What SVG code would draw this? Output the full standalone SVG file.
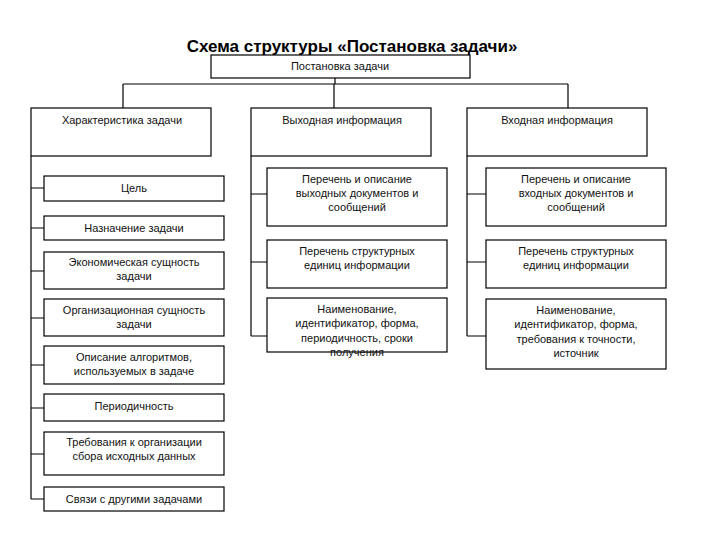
<svg xmlns="http://www.w3.org/2000/svg" width="720" height="540" viewBox="0 0 720 540">
<style>
rect{fill:#fff;stroke:#000;stroke-width:1.2}
text{font-family:"Liberation Sans",Arial,sans-serif;font-size:11px;fill:#111;text-anchor:middle}
.t{font-size:17px;font-weight:bold;fill:#000}
#c path{fill:none;stroke:#000;stroke-width:1.2}
</style>
<rect x="0" y="0" width="720" height="540" style="stroke:none"/>
<text class="t" x="352" y="52">Схема структуры «Постановка задачи»</text>
<g id="c">
<path d="M335 78V84M123 84H568M123 84V108M334 84V108M568 84V108"/>
<path d="M31 156V499M31 188H44M31 228H44M31 271H44M31 318H44M31 365H44M31 408H44M31 454H44M31 499H44"/>
<path d="M251 156V336M251 194H267M251 262H267M251 336H267"/>
<path d="M467 156V336M467 194H486M467 262H486M467 336H486"/>
</g>
<g id="root"><rect x="211" y="55" width="259" height="23"/><text x="340" y="70">Постановка задачи</text></g>
<g id="h1"><rect x="31" y="108" width="180" height="48"/><text x="122" y="124">Характеристика задачи</text></g>
<g id="h2"><rect x="251" y="108" width="180" height="48"/><text x="342" y="124">Выходная информация</text></g>
<g id="h3"><rect x="467" y="108" width="180" height="48"/><text x="557" y="124">Входная информация</text></g>
<g id="l1"><rect x="44" y="176" width="180" height="25"/><text x="134" y="192">Цель</text></g>
<g id="l2"><rect x="44" y="216" width="180" height="24"/><text x="134" y="232">Назначение задачи</text></g>
<g id="l3"><rect x="44" y="252" width="180" height="37"/><text x="134" y="266">Экономическая сущность</text><text x="134" y="280">задачи</text></g>
<g id="l4"><rect x="44" y="299" width="180" height="37"/><text x="134" y="314">Организационная сущность</text><text x="134" y="328">задачи</text></g>
<g id="l5"><rect x="44" y="346" width="180" height="38"/><text x="134" y="361">Описание алгоритмов,</text><text x="134" y="375">используемых в задаче</text></g>
<g id="l6"><rect x="44" y="394" width="180" height="27"/><text x="134" y="410">Периодичность</text></g>
<g id="l7"><rect x="44" y="432" width="180" height="43"/><text x="134" y="446">Требования к организации</text><text x="134" y="460">сбора исходных данных</text></g>
<g id="l8"><rect x="44" y="487" width="180" height="24"/><text x="134" y="503">Связи с другими задачами</text></g>
<g id="m1"><rect x="267" y="168" width="180" height="58"/><text x="357" y="183">Перечень и описание</text><text x="357" y="197">выходных документов и</text><text x="357" y="211">сообщений</text></g>
<g id="m2"><rect x="267" y="240" width="180" height="48"/><text x="357" y="255">Перечень структурных</text><text x="357" y="269">единиц информации</text></g>
<g id="m3"><rect x="267" y="298" width="180" height="54"/><text x="357" y="313">Наименование,</text><text x="357" y="327">идентификатор, форма,</text><text x="357" y="342">периодичность, сроки</text><text x="357" y="356">получения</text></g>
<g id="r1"><rect x="486" y="168" width="180" height="58"/><text x="576" y="183">Перечень и описание</text><text x="576" y="197">входных документов и</text><text x="576" y="211">сообщений</text></g>
<g id="r2"><rect x="486" y="240" width="180" height="48"/><text x="576" y="255">Перечень структурных</text><text x="576" y="269">единиц информации</text></g>
<g id="r3"><rect x="486" y="299" width="180" height="70"/><text x="576" y="314">Наименование,</text><text x="576" y="328">идентификатор, форма,</text><text x="576" y="343">требования к точности,</text><text x="576" y="357">источник</text></g>
</svg>
